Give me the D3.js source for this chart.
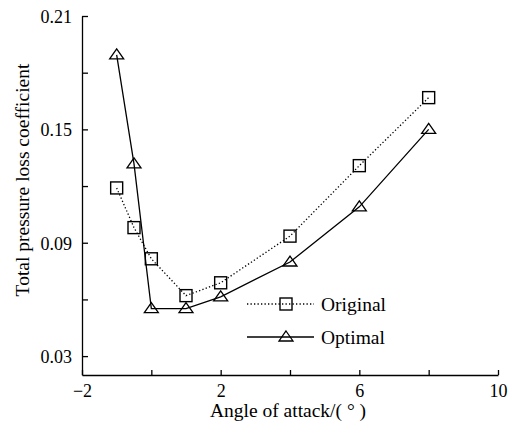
<!DOCTYPE html>
<html>
<head>
<meta charset="utf-8">
<script src="https://cdn.jsdelivr.net/npm/d3@7"></script>
<style>
  html, body { margin: 0; padding: 0; background: #fff; }
  svg { display: block; }
</style>
</head>
<body>
<svg id="chart" width="522" height="422" font-family="Liberation Serif"></svg>
<script>
// Angle of attack (degrees)
const angles = [-1, -0.5, 0, 1, 2, 4, 6, 8];
// Total pressure loss coefficient for each blade
const originalLoss = [0.119, 0.098, 0.0815, 0.062, 0.0688, 0.0935, 0.1308, 0.1668];
const optimalLoss = [0.1894, 0.1317, 0.0551, 0.0551, 0.0614, 0.0798, 0.109, 0.150];
const seriesNames = ["Original", "Optimal"];
const xTicks = [-2, 0, 2, 4, 6, 8, 10];
const xTickLabels = ["\u22122", "", "2", "", "6", "", "10"];
const yTicks = [0.03, 0.06, 0.09, 0.12, 0.15, 0.18, 0.21];
const yTickLabels = ["0.03", "", "0.09", "", "0.15", "", "0.21"];

const FONT = "Liberation Serif";
const svg = d3.select("#chart");
const margin = { left: 82, right: 24, top: 16, bottom: 47 };
const W = 522, H = 422;

const x = d3.scaleLinear().domain([-2, 10]).range([margin.left, W - margin.right]);
const y = d3.scaleLinear().domain([0.02, 0.21]).range([H - margin.bottom, margin.top]);

// Axes with inward ticks; only every other tick is labelled
const xAxis = d3.axisBottom(x).tickValues(xTicks).tickSize(-5).tickSizeOuter(0)
  .tickFormat((d, i) => xTickLabels[i]);
const yAxis = d3.axisLeft(y).tickValues(yTicks).tickSize(-6).tickSizeOuter(0)
  .tickFormat((d, i) => yTickLabels[i]);

const gx = svg.append("g").attr("transform", `translate(0,${y(0.02)})`).call(xAxis)
  .attr("font-family", FONT).attr("font-size", 18);
gx.selectAll("text").attr("dy", null).attr("y", 22).attr("fill", "#000");
const gy = svg.append("g").attr("transform", `translate(${x(-2)},0)`).call(yAxis)
  .attr("font-family", FONT).attr("font-size", 18);
gy.selectAll("text").attr("x", -10).attr("dy", "0.35em").attr("fill", "#000");
svg.selectAll(".domain, .tick line").attr("stroke", "#000").attr("stroke-width", 1.3);

// Axis titles
svg.append("text").attr("x", (x(-2) + x(10)) / 2 - 2).attr("y", 417)
  .attr("text-anchor", "middle").attr("font-family", FONT).attr("font-size", 19.5)
  .text("Angle of attack/( \u00b0 )");
svg.append("text").attr("transform", `translate(29,180) rotate(-90)`)
  .attr("text-anchor", "middle").attr("font-family", FONT).attr("font-size", 19.5)
  .text("Total pressure loss coefficient");

const line = d3.line().x(d => x(d[0])).y(d => y(d[1]));
const origData = angles.map((a, i) => [a, originalLoss[i]]);
const optData = angles.map((a, i) => [a, optimalLoss[i]]);

svg.append("path").datum(origData).attr("d", line).attr("fill", "none")
  .attr("stroke", "#000").attr("stroke-width", 1.3).attr("stroke-dasharray", "1.3,2.2");
svg.append("path").datum(optData).attr("d", line).attr("fill", "none")
  .attr("stroke", "#000").attr("stroke-width", 1.3);

function square(g, cx, cy) {
  g.append("rect").attr("x", cx - 6).attr("y", cy - 6).attr("width", 12).attr("height", 12)
    .attr("fill", "none").attr("stroke", "#000").attr("stroke-width", 1.4);
}
function triangle(g, cx, cy) {
  g.append("path")
    .attr("d", `M${cx},${cy - 6}L${cx + 7},${cy + 4}L${cx - 7},${cy + 4}Z`)
    .attr("fill", "none").attr("stroke", "#000").attr("stroke-width", 1.3);
}

const marks = svg.append("g");
origData.forEach(d => square(marks, x(d[0]), y(d[1])));
optData.forEach(d => triangle(marks, x(d[0]), y(d[1])));

// Legend
const legend = svg.append("g");
const lx0 = 247, lx1 = 314;
[304, 337].forEach((ly, i) => {
  legend.append("line").attr("x1", lx0).attr("x2", lx1).attr("y1", ly).attr("y2", ly)
    .attr("stroke", "#000").attr("stroke-width", 1.3)
    .attr("stroke-dasharray", i === 0 ? "1.3,2.2" : null);
  if (i === 0) square(legend, 286, ly);
  else triangle(legend, 286, ly);
  legend.append("text").attr("x", 321).attr("y", ly + 6.5)
    .attr("font-family", FONT).attr("font-size", 19.5)
    .text(seriesNames[i]);
});
</script>
</body>
</html>
